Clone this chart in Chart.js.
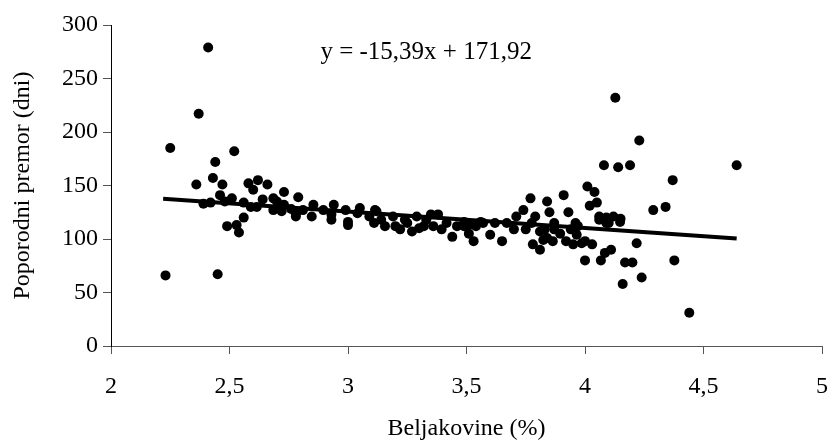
<!DOCTYPE html>
<html>
<head>
<meta charset="utf-8">
<script src="https://cdn.jsdelivr.net/npm/chart.js@4/dist/chart.umd.min.js"></script>
<style>
  html, body { margin: 0; padding: 0; background: #fff; }
  #wrap { width: 828px; height: 446px; }
</style>
</head>
<body>
<div id="wrap"><canvas id="scatterChart" width="828" height="446"></canvas></div>
<script>
// Beljakovine (%) vs. poporodni premor (dni)
const protein = [
  2.41, 2.37, 2.25, 2.52, 2.44, 2.43, 2.36, 2.47, 2.58, 2.62, 2.66, 2.73, 2.60, 2.79,
  2.46, 2.51, 2.39, 2.42, 2.48, 2.56, 2.59, 2.64, 2.685, 2.685, 2.72, 2.76, 2.78, 2.615,
  2.49, 2.53, 2.54, 2.56, 2.23, 2.45, 2.70, 2.73, 2.81, 2.854, 2.847, 2.896, 2.93, 2.94,
  2.99, 3.00, 3.04, 3.05, 3.09, 3.11, 3.12, 3.00, 2.93, 2.78,
  3.114, 3.14, 3.156, 3.19, 3.22, 3.24, 3.27, 3.29, 3.30, 3.33, 3.35, 3.36, 3.38, 3.395,
  3.416, 3.44, 3.46, 3.49, 3.51, 3.53, 3.54, 3.56, 3.20, 3.25, 3.32, 3.49, 3.51,
  3.57, 3.60, 3.62, 3.65, 3.67, 3.70, 3.71, 3.74, 3.75, 3.77, 3.775, 3.78, 3.79, 3.81,
  3.81, 3.824, 3.83, 3.84, 3.84, 3.85, 3.864, 3.87, 3.87, 3.895, 3.91, 3.92, 3.93, 3.94,
  3.95, 3.96, 3.965, 3.97, 3.986, 4.00, 4.00, 4.01, 4.02, 4.03, 4.04, 4.05, 4.06, 4.06,
  4.067, 4.08, 4.084, 4.09, 4.09, 4.10, 4.11, 4.12, 4.128, 4.14, 4.148, 4.15, 4.159, 4.169,
  4.19, 4.20, 4.218, 4.229, 4.239, 4.288, 4.34, 4.37, 4.377, 4.44, 4.64
];
const premor = [
  279, 217, 185, 182, 172, 157, 151, 151, 152, 155, 151, 144, 146, 139,
  141, 138, 133, 134, 135, 134, 130, 137, 138, 127, 126, 128, 123, 130,
  112, 113, 106, 120, 66, 67, 135, 132, 127, 132, 121, 127, 123, 132,
  127, 116, 124, 129, 121, 115, 126, 113, 118, 121,
  127, 118, 112, 121, 109, 118, 107, 121, 110, 118, 123, 112, 123, 109,
  115, 102, 112, 116, 105, 98, 112, 116, 112, 115, 112, 112, 113,
  115, 104, 115, 98, 115, 109, 121, 127, 109, 138, 115, 95, 121, 107,
  90, 99, 109, 135, 101, 125, 98, 115, 109, 105, 141, 98, 125, 109,
  95, 115, 104, 112, 96, 80, 98, 149, 131, 95, 144, 134, 121, 118,
  80, 169, 87, 120, 115, 115, 90, 121, 232, 167, 116, 119, 58, 78,
  169, 78, 96, 192, 64, 127, 130, 155, 80, 31, 169
];

// trend line endpoints as drawn
const trendX = [2.22, 4.64];
const trendY = [137.7, 100.5];
const equationText = 'y = -15,39x + 171,92';

const xTicks = [2, 2.5, 3, 3.5, 4, 4.5, 5];
const yTicks = [0, 50, 100, 150, 200, 250, 300];

const serif = '"Liberation Serif", "Times New Roman", serif';

const equationLabel = {
  id: 'equationLabel',
  afterDraw(chart) {
    const { ctx, scales } = chart;
    ctx.save();
    ctx.font = `25px ${serif}`;
    ctx.fillStyle = '#000';
    ctx.textAlign = 'center';
    ctx.textBaseline = 'middle';
    ctx.fillText(equationText, scales.x.getPixelForValue(3.33), scales.y.getPixelForValue(274));
    ctx.restore();
  }
};

const ctx = document.getElementById('scatterChart').getContext('2d');
new Chart(ctx, {
  type: 'scatter',
  data: {
    datasets: [
      {
        type: 'line',
        data: trendX.map((x, i) => ({ x, y: trendY[i] })),
        borderColor: '#000',
        borderWidth: 4,
        pointRadius: 0,
        fill: false,
        order: 0
      },
      {
        data: protein.map((x, i) => ({ x, y: premor[i] })),
        backgroundColor: '#000',
        borderColor: '#000',
        borderWidth: 0,
        pointRadius: 5,
        order: 1
      }
    ]
  },
  options: {
    responsive: false,
    devicePixelRatio: 1,
    animation: false,
    layout: { padding: { top: 25, right: 6, left: 0, bottom: 0 } },
    plugins: {
      legend: { display: false },
      tooltip: { enabled: false }
    },
    scales: {
      x: {
        type: 'linear',
        min: 2,
        max: 5,
        afterBuildTicks: s => { s.ticks = xTicks.map(v => ({ value: v })); },
        afterFit: s => { s.height = 100; s.paddingRight = 0; s.paddingLeft = 0; },
        ticks: {
          color: '#000',
          font: { family: serif, size: 24 },
          padding: 18,
          maxRotation: 0,
          callback: v => String(v).replace('.', ',')
        },
        grid: { display: true, drawOnChartArea: false, drawTicks: true, tickLength: 8, color: '#555' },
        border: { display: true, color: '#555', width: 1 },
        title: {
          display: true,
          text: 'Beljakovine (%)',
          color: '#000',
          font: { family: serif, size: 24 },
          padding: { top: 3, bottom: 3 }
        }
      },
      y: {
        min: 0,
        max: 300,
        afterBuildTicks: s => { s.ticks = yTicks.map(v => ({ value: v })); },
        afterFit: s => { s.width = 111; },
        ticks: {
          color: '#000',
          font: { family: serif, size: 24 },
          padding: 5
        },
        grid: { display: true, drawOnChartArea: false, drawTicks: true, tickLength: 8, color: '#555' },
        border: { display: true, color: '#000', width: 1 },
        title: {
          display: true,
          text: 'Poporodni premor (dni)',
          color: '#000',
          font: { family: serif, size: 24 },
          padding: { top: 8, bottom: 8 }
        }
      }
    }
  },
  plugins: [equationLabel]
});
</script>
</body>
</html>
